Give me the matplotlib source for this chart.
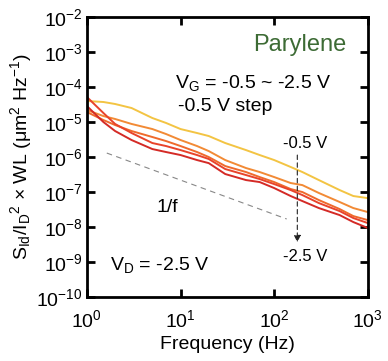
import matplotlib
matplotlib.use("Agg")
import matplotlib.pyplot as plt

plt.rcParams['font.family'] = ['Liberation Sans', 'DejaVu Sans']
plt.rcParams['mathtext.fontset'] = 'custom'
plt.rcParams['mathtext.rm'] = 'Liberation Sans'
plt.rcParams['mathtext.it'] = 'Liberation Sans:italic'

# frequency (Hz) and normalized noise PSD for each gate voltage
freq = [1, 1.5, 2, 3, 5, 7, 10, 15, 20, 30, 50, 70, 100, 150, 200, 300, 500, 700, 1000]
psd_vg05 = [3.98e-5, 3.73e-5, 3.27e-5, 2.51e-5, 1.30e-5, 9.4e-6, 6.3e-6, 4.85e-6, 3.98e-6, 2.51e-6,
            1.58e-6, 1.14e-6, 8.2e-7, 5.2e-7, 3.73e-7, 2.2e-7, 1.14e-7, 7.7e-8, 6.7e-8]
psd_vg10 = [2.2e-5, 1.48e-5, 1.22e-5, 8.8e-6, 6.3e-6, 4.54e-6, 3.06e-6, 2.06e-6, 1.48e-6, 8.2e-7,
            4.85e-7, 3.73e-7, 2.68e-7, 1.81e-7, 1.58e-7, 9.4e-8, 5.2e-8, 3.49e-8, 2.68e-8]
psd_vg15 = [1.93e-5, 1.14e-5, 8.2e-6, 5.53e-6, 3.73e-6, 2.86e-6, 2.06e-6, 1.39e-6, 1.0e-6, 5.53e-7,
            3.73e-7, 2.68e-7, 1.93e-7, 1.22e-7, 1.0e-7, 5.9e-8, 3.27e-8, 2.06e-8, 1.58e-8]
psd_vg20 = [5.18e-5, 1.81e-5, 8.8e-6, 4.85e-6, 2.51e-6, 2.06e-6, 1.58e-6, 1.14e-6, 8.8e-7, 4.54e-7,
            3.06e-7, 2.35e-7, 1.69e-7, 1.14e-7, 8.2e-8, 4.85e-8, 2.86e-8, 1.81e-8, 1.30e-8]
psd_vg25 = [2.86e-5, 1.0e-5, 5.53e-6, 3.06e-6, 1.69e-6, 1.39e-6, 1.14e-6, 8.2e-7, 6.7e-7, 3.27e-7,
            2.2e-7, 1.93e-7, 1.30e-7, 7.7e-8, 5.53e-8, 3.49e-8, 2.2e-8, 1.39e-8, 9.4e-9]

# 1/f guide line end points
guide_f = [1.63, 136]
guide_psd = [1.3e-6, 1.7e-8]

series = [psd_vg05, psd_vg10, psd_vg15, psd_vg20, psd_vg25]
colors = ['#f3c443', '#f28a35', '#ef6a2c', '#e8432b', '#d42a26']

fig = plt.figure(figsize=(3.88, 3.61), dpi=100)
ax = fig.add_axes([0.224, 0.177, 0.724, 0.776])

for psd, c in zip(series, colors):
    ax.plot(freq, psd, color=c, lw=1.4)

ax.plot(guide_f, guide_psd, color='#888888', lw=0.8, ls=(0, (5, 4)))

ax.set_xscale('log')
ax.set_yscale('log')
ax.set_xlim(1, 1000)
ax.set_ylim(1e-10, 1e-2)
ax.set_xticks([1, 10, 100, 1000])
ax.set_yticks([10.0**k for k in range(-10, -1)])
ax.minorticks_off()
ax.tick_params(which='major', direction='in', length=6, width=2,
               top=True, right=True, labelsize=14, pad=3)
ax.tick_params(axis='x', pad=9)
for s in ax.spines.values():
    s.set_linewidth(2)

ax.set_xlabel('Frequency (Hz)', fontsize=14, labelpad=3)
ax.set_ylabel(r'S$_{\mathrm{Id}}$/I$_{\mathrm{D}}$$^{\mathrm{2}}$ × WL (μm$^{\mathrm{2}}$ Hz$^{-1}$)',
              fontsize=14, labelpad=2)

ax.text(0.925, 0.90, 'Parylene', color='#3d6b35', fontsize=17,
        ha='right', va='center', transform=ax.transAxes)
ax.text(0.313, 0.764, r'V$_{\mathrm{G}}$ = -0.5 ~ -2.5 V', fontsize=14,
        ha='left', va='center', transform=ax.transAxes)
ax.text(0.324, 0.679, '-0.5 V step', fontsize=14,
        ha='left', va='center', transform=ax.transAxes)
ax.text(0.776, 0.55, '-0.5 V', fontsize=12, ha='center', va='center', transform=ax.transAxes)
ax.text(0.776, 0.146, '-2.5 V', fontsize=12, ha='center', va='center', transform=ax.transAxes)
ax.annotate('', xy=(0.749, 0.196), xytext=(0.749, 0.507), xycoords='axes fraction',
            arrowprops=dict(arrowstyle='-|>,head_length=0.4,head_width=0.2', color='#222222',
                            lw=0.8, ls=(0, (4, 3)), shrinkA=0, shrinkB=0))
ax.text(0.285, 0.321, '1/f', fontsize=14, ha='center', va='center', transform=ax.transAxes)
ax.text(0.082, 0.114, r'V$_{\mathrm{D}}$ = -2.5 V', fontsize=14,
        ha='left', va='center', transform=ax.transAxes)

fig.savefig('out.png', dpi=100)
